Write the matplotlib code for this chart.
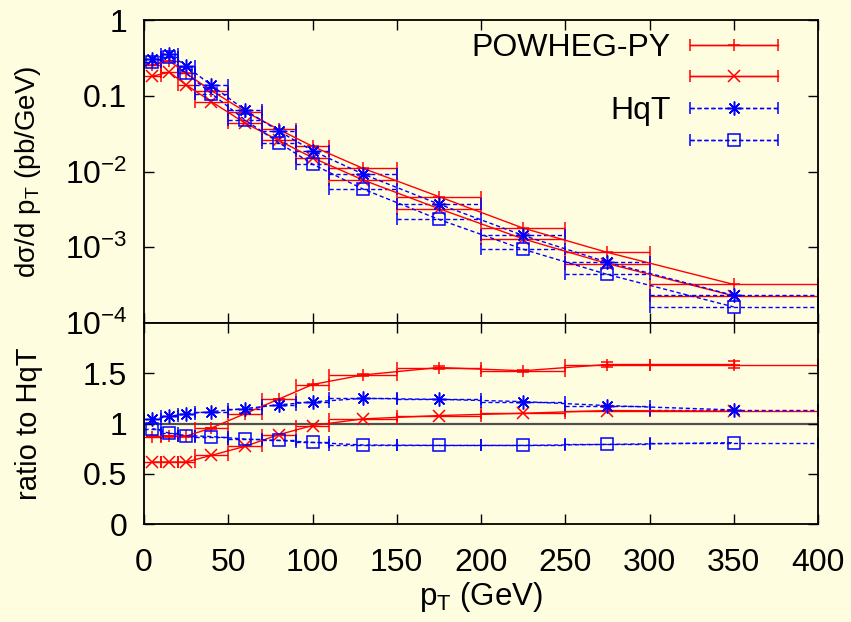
import numpy as np
import matplotlib
matplotlib.use("Agg")
import matplotlib.pyplot as plt
from matplotlib.container import ErrorbarContainer
from matplotlib.legend_handler import HandlerErrorbar

plt.rcParams['font.family'] = ['Liberation Sans', 'DejaVu Sans']
plt.rcParams['mathtext.fontset'] = 'custom'
plt.rcParams['mathtext.rm'] = 'Liberation Sans'
plt.rcParams['mathtext.it'] = 'Liberation Sans:italic'
plt.rcParams['mathtext.bf'] = 'Liberation Sans:bold'

# bins in pT (GeV)
pt = [5, 15, 25, 40, 60, 80, 100, 130, 175, 225, 275, 350]
bin_lo = [0, 10, 20, 30, 50, 70, 90, 110, 150, 200, 250, 300]
bin_hi = [10, 20, 30, 50, 70, 90, 110, 150, 200, 250, 300, 400]

# dsigma/dpT (pb/GeV)
powheg_plus = [0.255, 0.29, 0.197, 0.117, 0.0618, 0.0359, 0.0215, 0.011, 0.00466, 0.00179, 8.55e-4, 3.23e-4]
powheg_cross = [0.181, 0.205, 0.139, 0.0836, 0.0435, 0.0257, 0.0152, 0.00773, 0.00323, 0.00129, 6.09e-4, 2.28e-4]
hqt_star = [0.305, 0.356, 0.247, 0.137, 0.0647, 0.0342, 0.0188, 0.00924, 0.00371, 0.00143, 6.35e-4, 2.31e-4]
hqt_box = [0.276, 0.321, 0.198, 0.107, 0.0478, 0.024, 0.0125, 0.00586, 0.00233, 9.4e-4, 4.37e-4, 1.63e-4]

# ratio to HqT
r_powheg_plus = [0.87, 0.875, 0.875, 0.955, 1.098, 1.243, 1.388, 1.483, 1.557, 1.525, 1.587, 1.587]
r_powheg_plus_err = [0.005, 0.005, 0.005, 0.005, 0.005, 0.005, 0.005, 0.008, 0.012, 0.01, 0.025, 0.03]
r_powheg_cross = [0.617, 0.617, 0.617, 0.683, 0.773, 0.889, 0.98, 1.046, 1.079, 1.102, 1.129, 1.122]
r_hqt_star = [1.04, 1.072, 1.096, 1.119, 1.149, 1.185, 1.215, 1.25, 1.24, 1.218, 1.178, 1.135]
r_hqt_box = [0.95, 0.904, 0.88, 0.87, 0.845, 0.832, 0.812, 0.786, 0.782, 0.782, 0.792, 0.809]

legend_labels = ['POWHEG-PY', ' ', 'HqT', ' ']

bg = '#fffde0'
xerr = [np.array(pt) - np.array(bin_lo), np.array(bin_hi) - np.array(pt)]
asterisk = (8, 2, 0)
styles = [
    dict(color='#ff0000', marker='+', ms=9, dashed=False),
    dict(color='#ff0000', marker='x', ms=8, dashed=False),
    dict(color='#0000ff', marker=asterisk, ms=10, dashed=True),
    dict(color='#0000ff', marker='s', ms=8, dashed=True),
]


def draw(ax, y, yerr, st):
    ls = (0, (3, 2)) if st['dashed'] else '-'
    c = ax.errorbar(pt, y, xerr=xerr, yerr=yerr, color=st['color'], ls=ls, lw=1,
                    marker=st['marker'], ms=st['ms'], mfc='none', mec=st['color'], mew=1.1,
                    elinewidth=1, capsize=4, capthick=1)
    for bl in c[2]:
        bl.set_linestyle(ls)
    return c


fig = plt.figure(figsize=(8.51, 6.22), dpi=100, facecolor=bg)
L, W = 144 / 851, 674 / 851
ax1 = fig.add_axes([L, 1 - 323 / 622, W, 303 / 622], facecolor=bg)
ax2 = fig.add_axes([L, 1 - 524 / 622, W, 201 / 622], facecolor=bg)

top_series = [powheg_plus, powheg_cross, hqt_star, hqt_box]
handles = []
for y, st in zip(top_series, styles):
    handles.append(draw(ax1, y, None, st))

ratio_series = [(r_powheg_plus, r_powheg_plus_err), (r_powheg_cross, None),
                (r_hqt_star, None), (r_hqt_box, None)]
ax2.axhline(1, color='#505050', lw=1.6, zorder=1)
for (y, e), st in zip(ratio_series, styles):
    draw(ax2, y, e, st)

fs = 23
ax1.set_yscale('log')
ax1.set_ylim(1e-4, 1)
ax1.set_xlim(0, 400)
ax1.set_yticks([1e-4, 1e-3, 1e-2, 0.1, 1])
ax1.set_yticklabels(['$10^{-4}$', '$10^{-3}$', '$10^{-2}$', '0.1', '1'])
ax1.yaxis.set_minor_locator(matplotlib.ticker.NullLocator())
ax1.set_xticks(range(0, 401, 50))
ax1.tick_params(labelbottom=False)
ax1.set_ylabel('dσ/d p$_{\\rm T}$ (pb/GeV)', fontsize=20)
ax1.yaxis.set_label_coords(-0.150, 0.5)

ax2.set_xlim(0, 400)
ax2.set_ylim(0, 2)
ax2.set_yticks([0, 0.5, 1, 1.5])
ax2.set_yticklabels(['0', '0.5', '1', '1.5'])
ax2.set_xticks(range(0, 401, 50))
ax2.set_xlabel('p$_{\\rm T}$ (GeV)', fontsize=22.5, labelpad=2)
ax2.set_ylabel('ratio to HqT', fontsize=21)
ax2.yaxis.set_label_coords(-0.150, 0.5)

for ax in (ax1, ax2):
    ax.tick_params(which='both', direction='in', top=True, right=True, length=7, width=1,
                   labelsize=fs, color='black')
    ax.tick_params(axis='y', pad=12)
    ax.tick_params(axis='x', pad=17)
    for s in ax.spines.values():
        s.set_linewidth(1.3)

hl = 2.75
ax1.legend(handles, legend_labels, loc='upper right', bbox_to_anchor=((778 - 144) / 674, 0.957),
           frameon=False, markerfirst=False, fontsize=fs, handlelength=hl, handletextpad=0.6,
           labelspacing=0.05, borderpad=0, borderaxespad=0,
           handler_map={ErrorbarContainer: HandlerErrorbar(xerr_size=hl / 2)})

fig.savefig('out.png', dpi=100, facecolor=bg)
